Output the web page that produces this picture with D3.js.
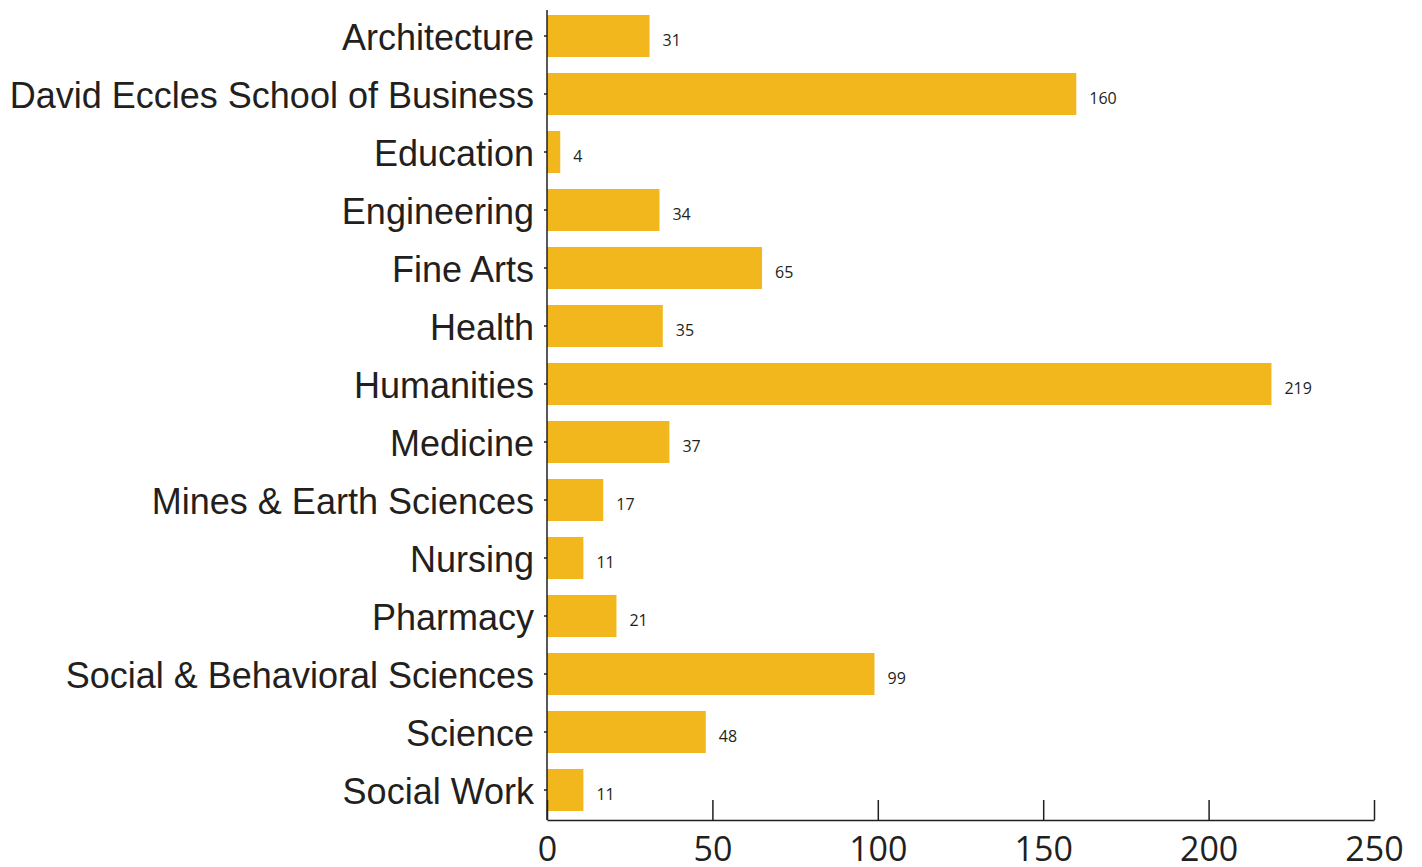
<!DOCTYPE html>
<html>
<head>
<meta charset="utf-8">
<script src="https://cdn.jsdelivr.net/npm/d3@7"></script>
<style>
  html, body { margin: 0; padding: 0; background: #fff; }
  svg { display: block; }
</style>
</head>
<body>
<svg id="chart" width="1422" height="867"></svg>
<script>
const categories = [
  "Architecture",
  "David Eccles School of Business",
  "Education",
  "Engineering",
  "Fine Arts",
  "Health",
  "Humanities",
  "Medicine",
  "Mines & Earth Sciences",
  "Nursing",
  "Pharmacy",
  "Social & Behavioral Sciences",
  "Science",
  "Social Work"
];
const values = [31, 160, 4, 34, 65, 35, 219, 37, 17, 11, 21, 99, 48, 11];
const xTicks = [0, 50, 100, 150, 200, 250];

const svg = d3.select("#chart");
const textColor = "#231f20";
const barColor = "#f1b71c";

const x = d3.scaleLinear().domain([0, 250]).range([547, 1374]);
const y = d3.scaleBand()
  .domain(categories)
  .range([7, 819])
  .paddingInner(16 / 58)
  .paddingOuter(8 / 58);

const axisY = 820;

// bars
svg.append("g").selectAll("rect")
  .data(categories)
  .join("rect")
  .attr("x", x(0))
  .attr("y", d => y(d))
  .attr("width", (d, i) => x(values[i]) - x(0))
  .attr("height", y.bandwidth())
  .attr("fill", barColor);

// value labels
svg.append("g").selectAll("text")
  .data(categories)
  .join("text")
  .attr("x", (d, i) => x(values[i]) + 13)
  .attr("y", d => y(d) + y.bandwidth() / 2 + 10)
  .attr("font-family", "'Open Sans', 'Liberation Sans', sans-serif")
  .attr("font-size", 16)
  .attr("fill", textColor)
  .text((d, i) => values[i]);

// category labels (left axis)
const yAxis = d3.axisLeft(y).tickSize(3).tickPadding(10);
const gy = svg.append("g")
  .attr("transform", `translate(${x(0)},0)`)
  .call(yAxis);
gy.select(".domain").remove();
gy.selectAll(".tick line").attr("stroke", textColor).attr("stroke-width", 1.5);
gy.selectAll(".tick text")
  .attr("font-family", "'Liberation Sans', Arial, sans-serif")
  .attr("font-size", 36)
  .attr("fill", textColor)
  .attr("dy", null)
  .attr("y", 14);

// vertical axis line
svg.append("line")
  .attr("x1", x(0)).attr("x2", x(0))
  .attr("y1", 10).attr("y2", axisY)
  .attr("stroke", textColor)
  .attr("stroke-width", 1.5);

// bottom axis
const xAxis = d3.axisBottom(x).tickValues(xTicks).tickSize(-20).tickPadding(0).tickSizeOuter(0);
const gx = svg.append("g")
  .attr("transform", `translate(0,${axisY})`)
  .call(xAxis);
gx.select(".domain").attr("stroke", textColor).attr("stroke-width", 1.5);
gx.selectAll(".tick line").attr("stroke", textColor).attr("stroke-width", 1.5);
gx.selectAll(".tick text")
  .attr("font-family", "'Open Sans', 'Liberation Sans', sans-serif")
  .attr("font-size", 34)
  .attr("fill", textColor)
  .attr("dy", null)
  .attr("y", 41);
</script>
</body>
</html>
